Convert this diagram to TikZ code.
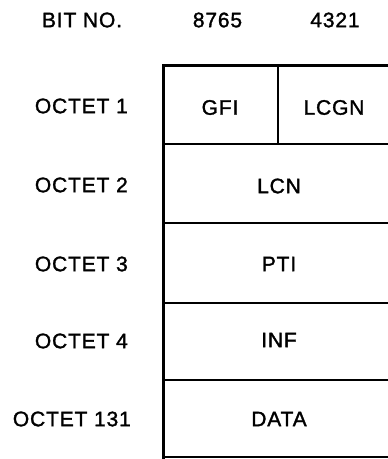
\documentclass[tikz,border=0pt]{standalone}
\usepackage{fontspec}
\setmainfont{Liberation Sans}[LetterSpace=4,FakeBold=1.5]
\begin{document}
\begin{tikzpicture}[x=1pt,y=-1pt,
  lbl/.style={font=\fontsize{21}{25}\selectfont, inner sep=0pt},
  rowlbl/.style={lbl, anchor=east},
  thickline/.style={line width=3pt, line cap=rect},
  midline/.style={line width=2pt},
  thinline/.style={line width=1.6pt}]
\useasboundingbox (0,0) rectangle (388,459);
% header
\node[lbl] (bitno) at (82,20) {BIT NO.};
\node[lbl] (b8765) at (217.5,20) {8765};
\node[lbl] (b4321) at (335,20) {4321};
% row labels
\node[rowlbl] (o1) at (128,106) {OCTET 1};
\node[rowlbl] (o2) at (128,185) {OCTET 2};
\node[rowlbl] (o3) at (128,264) {OCTET 3};
\node[rowlbl] (o4) at (128,341) {OCTET 4};
\node[rowlbl] (o131) at (131,419) {OCTET 131};
% frame
\draw[thickline] (163,457) -- (163,65) -- (400,65);
\draw[midline] (163,144) -- (400,144);
\draw[midline] (163,223) -- (400,223);
\draw[midline] (163,303) -- (400,303);
\draw[midline] (163,380) -- (400,380);
\draw[thinline] (163,457) -- (400,457);
\draw[thinline] (278,65) -- (278,144);
% cell texts
\node[lbl] (gfi) at (220,107.5) {GFI};
\node[lbl] (lcgn) at (334,107.5) {LCGN};
\node[lbl] (lcn) at (279,186) {LCN};
\node[lbl] (pti) at (279,264) {PTI};
\node[lbl] (inf) at (279,340) {INF};
\node[lbl] (data) at (279,419) {DATA};
\end{tikzpicture}
\end{document}
